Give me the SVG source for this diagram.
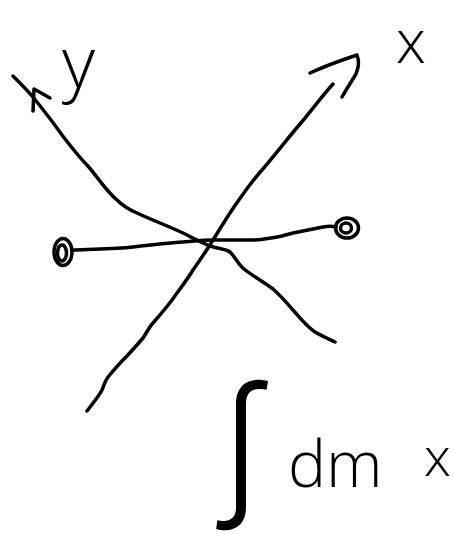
<svg xmlns="http://www.w3.org/2000/svg" width="454" height="534" viewBox="0 0 454 534">
<style>
.s{fill:none;stroke:#000;stroke-width:3.5;stroke-linecap:round;stroke-linejoin:round}
.t{font-family:"Open Sans","DejaVu Sans",sans-serif;font-weight:300;fill:#000}
</style>
<rect width="454" height="534" fill="#fff"/>
<g id="y-axis">
<path class="s" d="M13,76 C20,83 27,90 33,97 C45,112 55,125 62,135 C72,148 80,158 87,165 C97,176 105,190 117,200 C124,207 130,210 137,213 C152,220 168,226 183,233 C193,238 200,242 210,246 C220,249 226,249 230,252 C236,258 238,264 244,269 C254,277 264,282 273,289 C282,297 287,303 293,310 C300,318 306,326 315,332 C322,336 329,339 335,342"/>
<path class="s" d="M33,111 L34,89 L50,98"/>
</g>
<g id="x-axis">
<path class="s" d="M87,411 C93,403 99,396 102,390 C104,385 105,381 108,377 C113,371 118,365 123,360 C130,353 137,345 143,338 C147,332 150,326 153,323 C160,315 166,308 172,300 C179,290 187,280 193,270 C200,260 207,250 213,240 C220,229 227,217 234,207 C243,194 252,181 262,170 C275,155 288,138 300,124 C312,110 322,96 333,84"/>
<path class="s" d="M310,73 C325,66 342,60 357,55 C360,63 358,68 356,74 C351,82 346,90 342,97"/>
</g>
<g id="rod">
<path class="s" d="M74,250 C95,249 115,249 133,247 C150,245 168,243 183,242 C195,241 205,240 213,240 C228,240 242,240 253,240 C262,240 270,238 277,237 C283,236 288,234 293,233 C303,231 313,229 323,227 C328,226 332,226 336,227"/>
</g>
<g id="mass-left">
<ellipse class="s" cx="63" cy="252" rx="9" ry="13.5"/>
<ellipse class="s" cx="62" cy="253" rx="4.5" ry="8"/>
</g>
<g id="mass-right">
<ellipse class="s" cx="347" cy="228" rx="11.5" ry="10"/>
<ellipse class="s" cx="346" cy="228" rx="5.5" ry="5"/>
</g>
<g id="labels">
<text class="t" x="62" y="88" font-size="72">y</text>
<text class="t" x="396" y="63" font-size="60">x</text>
<text x="218" y="496" font-size="150" font-weight="300" font-family="Inter,'Liberation Serif',serif" fill="#000">∫</text>
<text class="t" x="288" y="487" font-size="64">dm</text>
<text class="t" x="424" y="476" font-size="54">x</text>
</g>
</svg>
